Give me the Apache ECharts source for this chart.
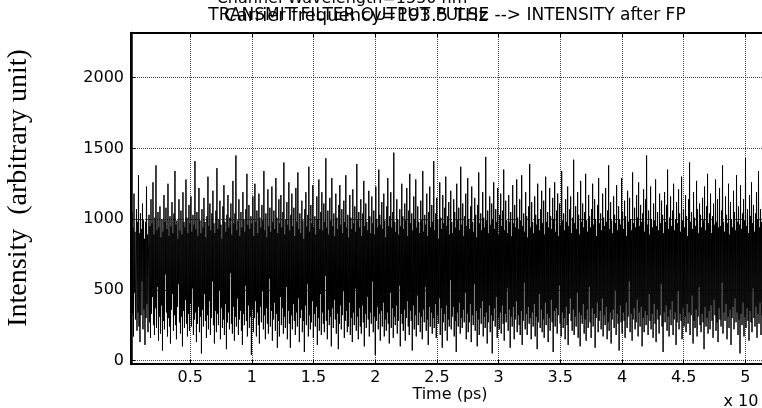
<!DOCTYPE html>
<html>
<head>
<meta charset="utf-8">
<script src="https://cdn.jsdelivr.net/npm/echarts@6/dist/echarts.min.js"></script>
<style>
  html, body { margin: 0; padding: 0; background: #fff; }
  #chart { width: 762px; height: 408px; }
</style>
</head>
<body>
<div id="chart"></div>
<script>
// Sampling of the detected trace, in ps
const timeStart = 200;
const timeStep = 40.5;

// Intensity after the Fabry-Perot filter (arbitrary unit)
const intensity = [
  900, 260, 1050, 330, 940, 170, 1180, 480, 910, 290, 680, 1070, 210, 980, 340, 1310, 240, 900, 130, 1040,
  320, 930, 560, 1110, 220, 990, 360, 860, 110, 980, 300, 1230, 400, 890, 200, 760, 1030, 270, 950, 160,
  1140, 330, 970, 450, 1260, 250, 890, 180, 1010, 370, 1380, 230, 920, 520, 1050, 140, 940, 310, 1090, 190,
  870, 390, 1000, 70, 910, 280, 1170, 220, 980, 610, 1080, 340, 930, 170, 1250, 300, 880, 240, 1020, 120,
  950, 360, 1120, 470, 900, 210, 1040, 320, 1340, 250, 960, 150, 990, 380, 860, 540, 1140, 270, 920, 190,
  1060, 310, 890, 100, 1190, 350, 980, 230, 940, 430, 1280, 260, 1010, 170, 900, 330, 1100, 210, 970, 400,
  1160, 240, 910, 510, 1030, 180, 960, 290, 1410, 340, 930, 130, 1050, 260, 880, 380, 1220, 200, 990, 310,
  900, 50, 1070, 360, 940, 240, 1150, 470, 980, 280, 870, 160, 1020, 320, 1300, 220, 950, 420, 1110, 180,
  920, 300, 1040, 560, 1200, 250, 970, 120, 900, 350, 1060, 200, 1360, 330, 930, 250, 1000, 500, 1130, 150,
  960, 370, 860, 230, 1090, 290, 1240, 180, 980, 400, 910, 80, 1030, 270, 1170, 340, 940, 220, 1010, 620,
  1110, 260, 890, 190, 1270, 380, 970, 140, 1040, 310, 1450, 240, 920, 440, 990, 180, 1140, 290, 880, 350,
  1050, 210, 940, 110, 1190, 330, 1000, 250, 910, 530, 1070, 280, 1320, 170, 960, 390, 1100, 230, 930, 310,
  1020, 40, 970, 360, 1160, 200, 880, 300, 1250, 420, 980, 170, 1060, 340, 900, 250, 1180, 120, 1010, 380,
  940, 270, 1100, 490, 990, 220, 1340, 320, 920, 150, 1040, 370, 870, 260, 1210, 190, 950, 580, 1080, 240,
  910, 350, 1230, 140, 980, 290, 1060, 410, 930, 210, 1290, 330, 1010, 90, 900, 280, 1140, 170, 970, 450,
  1170, 250, 940, 370, 1050, 190, 1400, 310, 890, 230, 1000, 520, 1120, 150, 960, 350, 1260, 260, 920, 90,
  1030, 320, 1180, 220, 950, 400, 1080, 280, 880, 180, 1220, 340, 980, 240, 1330, 440, 930, 130, 1040, 300,
  900, 360, 1130, 200, 990, 280, 860, 60, 1070, 390, 1190, 250, 950, 540, 1030, 170, 1370, 320, 910, 220,
  1100, 270, 970, 420, 1240, 160, 940, 330, 1020, 240, 890, 380, 1160, 110, 1000, 300, 1280, 210, 930, 470,
  1050, 180, 1190, 340, 920, 260, 1110, 200, 980, 600, 1430, 280, 940, 150, 1060, 360, 890, 250, 1150, 310,
  990, 100, 1290, 370, 950, 230, 1040, 430, 880, 290, 1180, 190, 1010, 330, 930, 80, 1100, 260, 1240, 390,
  960, 220, 1070, 320, 900, 490, 1130, 160, 980, 280, 1310, 350, 940, 200, 1030, 240, 870, 410, 1170, 180,
  1010, 300, 930, 130, 1210, 340, 970, 250, 1090, 510, 910, 210, 1390, 310, 990, 150, 1050, 370, 940, 240,
  1140, 190, 880, 390, 1040, 270, 1270, 100, 950, 330, 1110, 230, 980, 450, 920, 290, 1200, 170, 1020, 340,
  900, 260, 1160, 560, 970, 200, 1060, 310, 890, 40, 1230, 280, 1000, 380, 940, 220, 1350, 330, 1030, 140,
  960, 350, 1120, 240, 930, 410, 1180, 170, 990, 290, 870, 210, 1090, 340, 1290, 260, 950, 120, 1020, 480,
  1190, 230, 940, 370, 1050, 160, 1470, 310, 980, 250, 910, 390, 1140, 190, 1000, 280, 890, 530, 1070, 100,
  950, 330, 1250, 260, 1020, 210, 930, 360, 1110, 140, 990, 300, 1220, 420, 880, 240, 1060, 180, 1320, 350,
  970, 280, 1040, 70, 920, 390, 1160, 220, 1000, 320, 1280, 170, 940, 460, 1090, 250, 980, 340, 900, 200,
  1130, 310, 990, 150, 1340, 360, 910, 270, 1030, 520, 960, 210, 1180, 290, 880, 110, 1050, 380, 1230, 240,
  940, 340, 1100, 190, 980, 300, 1410, 230, 920, 400, 1040, 160, 1150, 320, 1000, 260, 860, 440, 1260, 180,
  1010, 370, 930, 90, 1170, 270, 970, 330, 1080, 210, 1300, 390, 950, 140, 1020, 290, 1120, 240, 890, 570,
  1200, 220, 980, 310, 900, 380, 1140, 170, 1050, 280, 940, 60, 1250, 340, 990, 240, 1080, 410, 920, 190,
  1370, 300, 960, 230, 1110, 360, 880, 270, 1020, 480, 1180, 150, 950, 330, 1290, 200, 1000, 270, 930, 400,
  1090, 130, 1230, 320, 980, 250, 910, 540, 1150, 210, 1030, 350, 870, 100, 1100, 290, 1330, 180, 970, 370,
  1040, 260, 920, 420, 1190, 170, 1010, 310, 940, 230, 1440, 340, 990, 120, 1060, 270, 900, 390, 1160, 200,
  960, 320, 1110, 50, 1000, 280, 1260, 370, 930, 240, 1070, 450, 980, 160, 1220, 300, 890, 220, 1030, 340,
  1180, 190, 950, 390, 1060, 260, 1350, 140, 920, 330, 1130, 270, 990, 510, 900, 210, 1170, 360, 980, 90,
  1050, 310, 880, 240, 1240, 380, 970, 150, 1100, 290, 940, 420, 1280, 200, 1010, 320, 930, 250, 1140, 180,
  990, 350, 1310, 110, 950, 280, 1040, 550, 910, 220, 1190, 330, 1020, 180, 870, 380, 1090, 260, 1390, 300,
  940, 150, 1120, 340, 980, 240, 900, 400, 1160, 170, 1030, 310, 960, 80, 1250, 270, 1000, 470, 920, 230,
  1070, 360, 1200, 200, 970, 290, 1130, 160, 890, 410, 1300, 250, 980, 330, 1050, 130, 940, 300, 1220, 210,
  1020, 430, 930, 270, 1150, 60, 1000, 350, 1260, 240, 910, 370, 1060, 190, 1180, 320, 880, 530, 1110, 260,
  960, 170, 1340, 340, 990, 230, 1040, 300, 920, 150, 1140, 380, 980, 250, 1230, 110, 950, 330, 1070, 440,
  1160, 280, 900, 210, 1010, 360, 1420, 180, 970, 310, 1090, 240, 930, 480, 1190, 160, 1030, 340, 890, 100,
  1270, 320, 980, 260, 1110, 400, 940, 190, 1050, 290, 1320, 140, 990, 360, 910, 230, 1170, 520, 1020, 270,
  940, 160, 1070, 370, 1250, 240, 960, 330, 1140, 90, 1000, 300, 880, 410, 1100, 200, 1290, 280, 970, 350,
  1040, 220, 920, 440, 1180, 170, 1010, 320, 950, 250, 1220, 380, 980, 150, 1060, 270, 1380, 210, 930, 340,
  1120, 120, 990, 290, 900, 360, 1160, 230, 1030, 500, 970, 180, 1240, 330, 920, 260, 1090, 70, 1000, 390,
  960, 270, 1290, 190, 1050, 340, 930, 280, 1130, 160, 1020, 410, 880, 230, 1200, 310, 980, 560, 1150, 200,
  1000, 330, 920, 140, 1330, 290, 970, 370, 1080, 220, 940, 270, 1170, 430, 1010, 170, 1260, 340, 950, 240,
  1100, 380, 980, 100, 1040, 300, 1210, 200, 910, 350, 1140, 250, 1450, 320, 960, 180, 1060, 470, 890, 280,
  1230, 220, 1000, 330, 940, 160, 1110, 400, 990, 260, 1280, 130, 950, 360, 1050, 290, 920, 190, 1180, 320,
  970, 540, 1130, 240, 1030, 60, 900, 340, 1190, 270, 980, 390, 1100, 210, 1350, 310, 930, 170, 1010, 360,
  1160, 250, 950, 420, 1060, 180, 1250, 290, 920, 340, 1000, 110, 1120, 270, 970, 490, 1210, 220, 1040, 330,
  910, 280, 1300, 150, 990, 370, 1070, 240, 940, 310, 1170, 200, 1020, 400, 880, 260, 1140, 340, 1400, 180,
  980, 320, 1050, 460, 930, 120, 1190, 280, 1010, 230, 950, 360, 1270, 170, 1070, 310, 900, 520, 1110, 250,
  1030, 200, 940, 330, 1150, 270, 990, 80, 1230, 380, 920, 240, 1090, 300, 1320, 190, 970, 350, 1040, 220,
  1180, 390, 900, 280, 1020, 160, 1110, 430, 960, 320, 1280, 210, 980, 270, 1140, 130, 940, 370, 1220, 290,
  950, 240, 1060, 550, 1380, 190, 980, 340, 910, 280, 1160, 400, 1030, 150, 970, 310, 1250, 230, 890, 360,
  1120, 110, 1000, 300, 940, 380, 1200, 220, 1050, 440, 920, 270, 1310, 340, 980, 180, 1090, 290, 960, 50,
  1240, 330, 930, 250, 1040, 410, 1140, 170, 990, 310, 1430, 230, 950, 370, 1070, 280, 900, 140, 1170, 350,
  1020, 270, 1260, 200, 970, 510, 1100, 300, 910, 240, 1040, 380, 1190, 160, 1000, 330, 1340, 260, 940, 410,
  1070, 180, 980, 320, 1150, 100, 920, 360, 1220, 280, 1010, 220, 1110, 390, 950, 250, 1290, 330, 1030, 210
];

// Tick values shown on the axes
const yTickValues = [0, 500, 1000, 1500, 2000];
const xTickValues = [5000, 10000, 15000, 20000, 25000, 30000, 35000, 40000, 45000, 50000];

// Text
const titleLines = [
  'Channel Wavelength=1550 nm',
  'TRANSMIT FILTER OUTPUT PULSE --> INTENSITY after FP',
  'Carrier frequency=193.5 THz'
];
const xAxisTitle = 'Time (ps)';
const xAxisExponent = 'x 10';
const yAxisTitle = 'Intensity  (arbitrary unit)';

const points = intensity.map((v, i) => [timeStart + i * timeStep, v]);

const sans = 'DejaVu Sans';

const chart = echarts.init(document.getElementById('chart'), null, { renderer: 'canvas' });

const gridLine = { show: true, lineStyle: { color: '#444', type: 'dotted', width: 1 } };

chart.setOption({
  animation: false,
  backgroundColor: '#fff',
  grid: {
    left: 131, top: 33, width: 639, height: 331,
    outerBoundsMode: 'none', containLabel: false,
    show: true, borderColor: '#000', borderWidth: 2, backgroundColor: 'transparent'
  },
  xAxis: [
    {
      type: 'value', min: 200, max: 52000, splitNumber: 10,
      axisLine: { show: true, onZero: false, lineStyle: { color: '#000', width: 2 } },
      axisTick: { show: true, inside: true, length: 4, lineStyle: { color: '#000', width: 1 } },
      axisLabel: {
        show: true, margin: 6, color: '#000', fontFamily: sans, fontSize: 16,
        formatter: v => xTickValues.includes(v) ? String(v / 10000) : ''
      },
      splitLine: gridLine
    },
    {
      type: 'value', position: 'top', min: 200, max: 52000, splitNumber: 10,
      axisLine: { show: true, onZero: false, lineStyle: { color: '#000', width: 2 } },
      axisTick: { show: true, inside: true, length: 4, lineStyle: { color: '#000', width: 1 } },
      axisLabel: { show: false },
      splitLine: { show: false }
    }
  ],
  yAxis: {
    type: 'value', min: -25, max: 2316, splitNumber: 5,
    axisLine: { show: true, onZero: false, lineStyle: { color: '#000', width: 2.5 } },
    axisTick: { show: true, inside: true, length: 4, lineStyle: { color: '#000', width: 1 } },
    axisLabel: {
      show: true, margin: 7, color: '#000', fontFamily: sans, fontSize: 16,
      formatter: v => yTickValues.includes(v) ? String(v) : ''
    },
    splitLine: gridLine
  },
  graphic: [
    { type: 'text', x: 342, y: -1, style: { text: titleLines[0], font: '16px "DejaVu Sans"', fill: '#000', align: 'center', verticalAlign: 'middle' } },
    { type: 'text', x: 447, y: 16, style: { text: titleLines[1], font: '17px "DejaVu Sans"', fill: '#000', align: 'center', verticalAlign: 'middle' } },
    { type: 'text', x: 356, y: 16, style: { text: titleLines[2], font: '18px "DejaVu Sans"', fill: '#000', align: 'center', verticalAlign: 'middle' } },
    { type: 'text', x: 450, y: 395, style: { text: xAxisTitle, font: '16px "DejaVu Sans"', fill: '#000', align: 'center', verticalAlign: 'middle' } },
    { type: 'text', x: 741, y: 402, style: { text: xAxisExponent, font: '16px "DejaVu Sans"', fill: '#000', align: 'center', verticalAlign: 'middle' } },
    { type: 'text', x: 19, y: 188, rotation: Math.PI / 2, style: { text: yAxisTitle, font: '28px "Liberation Serif"', fill: '#000', align: 'center', verticalAlign: 'middle' } }
  ],
  series: [{
    type: 'line',
    data: points,
    showSymbol: false,
    symbol: 'none',
    lineStyle: { color: '#000', width: 1 },
    clip: true
  }]
});
</script>
</body>
</html>
